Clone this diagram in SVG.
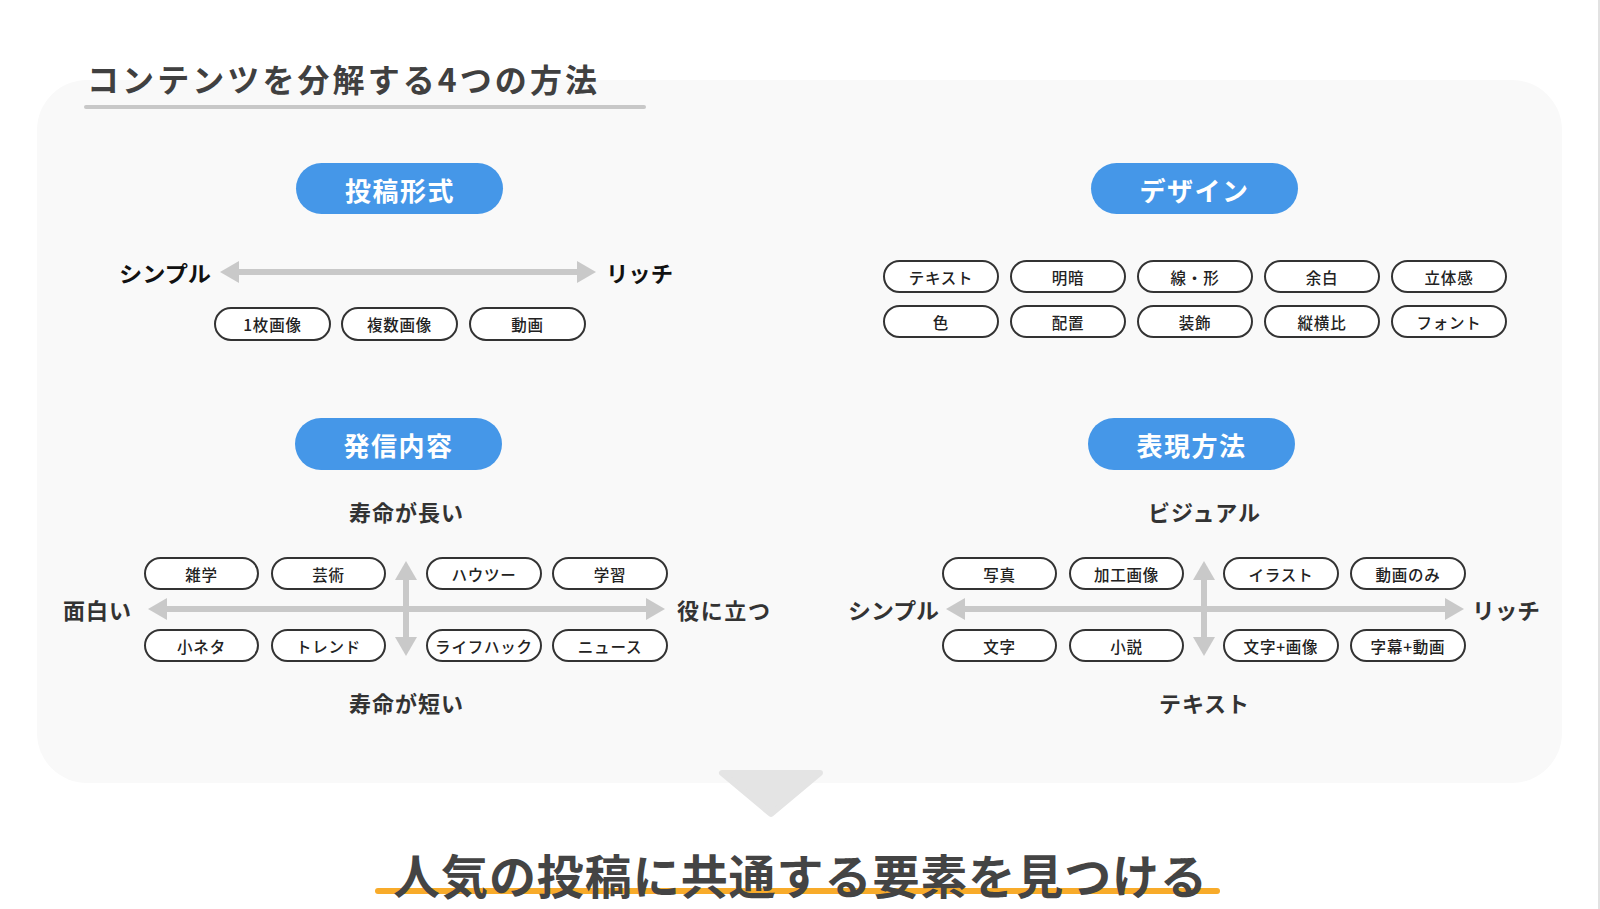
<svg xmlns="http://www.w3.org/2000/svg" width="1600" height="909" viewBox="0 0 1600 909">
  <defs>
    <style>
      text { font-family: "Noto Sans CJK JP", "Noto Sans", sans-serif; }
      .pill rect { fill: #ffffff; stroke: #333333; stroke-width: 2; }
      .pill text { font-size: 15.5px; font-weight: 500; fill: #222222; text-anchor: middle; dominant-baseline: central; letter-spacing: 0.8px; }
      .head rect { fill: #4597e8; }
      .head text { font-size: 26px; font-weight: 700; fill: #ffffff; text-anchor: middle; dominant-baseline: central; letter-spacing: 1.5px; }
      .lbl { font-size: 22px; font-weight: 700; fill: #333333; dominant-baseline: central; }
      .lbl.dark { fill: #111111; }
      .mid { text-anchor: middle; }
      .axis { stroke: #c9c9c9; stroke-width: 6; fill: none; marker-start: url(#ah); marker-end: url(#ah); }
    </style>
    <marker id="ah" markerUnits="userSpaceOnUse" markerWidth="20" markerHeight="22" refX="0" refY="11" orient="auto-start-reverse">
      <path d="M0,0 L19,11 L0,22 Z" fill="#c9c9c9"/>
    </marker>
  </defs>

  <rect width="1600" height="909" fill="#ffffff"/>
  <rect x="1598" y="0" width="2" height="909" fill="#e2e2e2"/>

  <!-- panel -->
  <rect id="panel" x="37" y="80" width="1525" height="703" rx="50" ry="50" fill="#f9f9f9"/>

  <!-- title -->
  <g id="title">
    <text x="87" y="78" font-size="32" font-weight="700" fill="#404040" dominant-baseline="central" textLength="510" lengthAdjust="spacing">コンテンツを分解する4つの方法</text>
    <line x1="86" y1="107" x2="644" y2="107" stroke="#c8c8c8" stroke-width="4" stroke-linecap="round"/>
  </g>

  <!-- connectors / axes -->
  <g id="connectors">
    <line class="axis" x1="239" y1="272" x2="577" y2="272"/>
    <line class="axis" x1="167" y1="609" x2="646" y2="609"/>
    <line class="axis" x1="406" y1="580" x2="406" y2="637"/>
    <line class="axis" x1="965" y1="609" x2="1445" y2="609"/>
    <line class="axis" x1="1204" y1="580" x2="1204" y2="637"/>
  </g>

  <!-- section 1: 投稿形式 -->
  <g id="head-toukou" class="head">
    <rect x="296" y="163" width="207" height="51" rx="25.5"/>
    <text x="400" y="189">投稿形式</text>
  </g>
  <g id="lbl-simple-1"><text class="lbl dark" x="119" y="272" font-size="21" textLength="92" lengthAdjust="spacingAndGlyphs">シンプル</text></g>
  <g id="lbl-rich-1"><text class="lbl dark" x="606" y="272" font-size="21" textLength="67" lengthAdjust="spacingAndGlyphs">リッチ</text></g>
  <g id="p-1mai" class="pill"><rect x="215" y="308" width="115" height="32" rx="16"/><text x="272.5" y="324">1枚画像</text></g>
  <g id="p-fukusu" class="pill"><rect x="342" y="308" width="115" height="32" rx="16"/><text x="399.5" y="324">複数画像</text></g>
  <g id="p-douga" class="pill"><rect x="470" y="308" width="115" height="32" rx="16"/><text x="527.5" y="324">動画</text></g>

  <!-- section 2: デザイン -->
  <g id="head-design" class="head">
    <rect x="1091" y="163" width="207" height="51" rx="25.5"/>
    <text x="1194.5" y="189">デザイン</text>
  </g>
  <g id="p-text" class="pill"><rect x="884" y="261" width="114" height="31" rx="15.5"/><text x="941" y="276.5">テキスト</text></g>
  <g id="p-meian" class="pill"><rect x="1011" y="261" width="114" height="31" rx="15.5"/><text x="1068" y="276.5">明暗</text></g>
  <g id="p-sen" class="pill"><rect x="1138" y="261" width="114" height="31" rx="15.5"/><text x="1195" y="276.5">線・形</text></g>
  <g id="p-yohaku" class="pill"><rect x="1265" y="261" width="114" height="31" rx="15.5"/><text x="1322" y="276.5">余白</text></g>
  <g id="p-rittai" class="pill"><rect x="1392" y="261" width="114" height="31" rx="15.5"/><text x="1449" y="276.5">立体感</text></g>
  <g id="p-iro" class="pill"><rect x="884" y="306" width="114" height="31" rx="15.5"/><text x="941" y="321.5">色</text></g>
  <g id="p-haichi" class="pill"><rect x="1011" y="306" width="114" height="31" rx="15.5"/><text x="1068" y="321.5">配置</text></g>
  <g id="p-soushoku" class="pill"><rect x="1138" y="306" width="114" height="31" rx="15.5"/><text x="1195" y="321.5">装飾</text></g>
  <g id="p-jyuuou" class="pill"><rect x="1265" y="306" width="114" height="31" rx="15.5"/><text x="1322" y="321.5">縦横比</text></g>
  <g id="p-font" class="pill"><rect x="1392" y="306" width="114" height="31" rx="15.5"/><text x="1449" y="321.5">フォント</text></g>

  <!-- section 3: 発信内容 -->
  <g id="head-hasshin" class="head">
    <rect x="295" y="418" width="207" height="52" rx="26"/>
    <text x="398.5" y="444">発信内容</text>
  </g>
  <g id="lbl-long"><text class="lbl mid" x="406" y="511" textLength="114" lengthAdjust="spacing">寿命が長い</text></g>
  <g id="lbl-short"><text class="lbl mid" x="406" y="702" textLength="114" lengthAdjust="spacing">寿命が短い</text></g>
  <g id="lbl-omoshiroi"><text class="lbl" x="63" y="609" textLength="68" lengthAdjust="spacing">面白い</text></g>
  <g id="lbl-yakunitatsu"><text class="lbl" x="677" y="609" textLength="93" lengthAdjust="spacing">役に立つ</text></g>
  <g id="p-zatsugaku" class="pill"><rect x="145" y="558" width="113" height="31" rx="15.5"/><text x="201.5" y="573.5">雑学</text></g>
  <g id="p-geijutsu" class="pill"><rect x="272" y="558" width="113" height="31" rx="15.5"/><text x="328.5" y="573.5">芸術</text></g>
  <g id="p-howto" class="pill"><rect x="427" y="558" width="114" height="31" rx="15.5"/><text x="484" y="573.5">ハウツー</text></g>
  <g id="p-gakushu" class="pill"><rect x="553" y="558" width="114" height="31" rx="15.5"/><text x="610" y="573.5">学習</text></g>
  <g id="p-koneta" class="pill"><rect x="145" y="630" width="113" height="31" rx="15.5"/><text x="201.5" y="645.5">小ネタ</text></g>
  <g id="p-trend" class="pill"><rect x="272" y="630" width="113" height="31" rx="15.5"/><text x="328.5" y="645.5">トレンド</text></g>
  <g id="p-lifehack" class="pill"><rect x="427" y="630" width="114" height="31" rx="15.5"/><text x="484" y="645.5">ライフハック</text></g>
  <g id="p-news" class="pill"><rect x="553" y="630" width="114" height="31" rx="15.5"/><text x="610" y="645.5">ニュース</text></g>

  <!-- section 4: 表現方法 -->
  <g id="head-hyougen" class="head">
    <rect x="1088" y="418" width="207" height="52" rx="26"/>
    <text x="1191.5" y="444">表現方法</text>
  </g>
  <g id="lbl-visual"><text class="lbl mid" x="1204" y="511" textLength="112" lengthAdjust="spacing">ビジュアル</text></g>
  <g id="lbl-text"><text class="lbl mid" x="1204" y="702" textLength="90" lengthAdjust="spacing">テキスト</text></g>
  <g id="lbl-simple-2"><text class="lbl" x="848" y="609" textLength="91" lengthAdjust="spacingAndGlyphs">シンプル</text></g>
  <g id="lbl-rich-2"><text class="lbl" x="1472" y="609" textLength="68" lengthAdjust="spacingAndGlyphs">リッチ</text></g>
  <g id="p-shashin" class="pill"><rect x="943" y="558" width="113" height="31" rx="15.5"/><text x="999.5" y="573.5">写真</text></g>
  <g id="p-kakou" class="pill"><rect x="1070" y="558" width="113" height="31" rx="15.5"/><text x="1126.5" y="573.5">加工画像</text></g>
  <g id="p-illust" class="pill"><rect x="1224" y="558" width="114" height="31" rx="15.5"/><text x="1281" y="573.5">イラスト</text></g>
  <g id="p-dougaonly" class="pill"><rect x="1351" y="558" width="114" height="31" rx="15.5"/><text x="1408" y="573.5">動画のみ</text></g>
  <g id="p-moji" class="pill"><rect x="943" y="630" width="113" height="31" rx="15.5"/><text x="999.5" y="645.5">文字</text></g>
  <g id="p-shousetsu" class="pill"><rect x="1070" y="630" width="113" height="31" rx="15.5"/><text x="1126.5" y="645.5">小説</text></g>
  <g id="p-mojigazou" class="pill"><rect x="1224" y="630" width="114" height="31" rx="15.5"/><text x="1281" y="645.5">文字+画像</text></g>
  <g id="p-jimaku" class="pill"><rect x="1351" y="630" width="114" height="31" rx="15.5"/><text x="1408" y="645.5">字幕+動画</text></g>

  <!-- down arrow -->
  <g id="down-arrow">
    <path d="M722,773 L820,773 L771,814 Z" fill="#e4e4e4" stroke="#e4e4e4" stroke-width="6" stroke-linejoin="round"/>
  </g>

  <!-- conclusion -->
  <g id="conclusion">
    <line x1="378" y1="891" x2="1217" y2="891" stroke="#f8ab2a" stroke-width="6" stroke-linecap="round"/>
    <text x="393" y="873" font-size="47" font-weight="700" fill="#444444" dominant-baseline="central" textLength="814" lengthAdjust="spacing">人気の投稿に共通する要素を見つける</text>
  </g>
</svg>
